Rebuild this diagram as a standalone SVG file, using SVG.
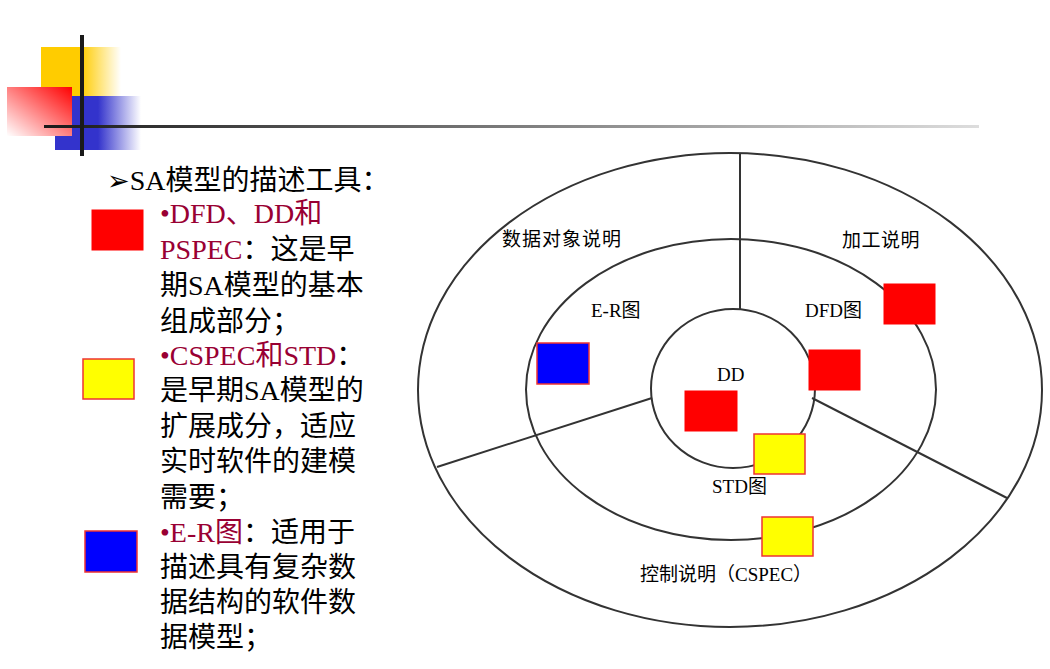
<svg xmlns="http://www.w3.org/2000/svg" width="1050" height="669" viewBox="0 0 1050 669">
<defs>
<linearGradient id="gY" x1="0" y1="0" x2="1" y2="0">
<stop offset="0" stop-color="#FFCC00"/><stop offset="0.5" stop-color="#FFCC00"/><stop offset="1" stop-color="#FFCC00" stop-opacity="0"/>
</linearGradient>
<linearGradient id="gB" x1="0" y1="0" x2="1" y2="0">
<stop offset="0" stop-color="#3333CC"/><stop offset="0.5" stop-color="#3333CC"/><stop offset="1" stop-color="#3333CC" stop-opacity="0"/>
</linearGradient>
<linearGradient id="gR" x1="1" y1="0" x2="0" y2="1">
<stop offset="0" stop-color="#FF0000"/><stop offset="1" stop-color="#FF0000" stop-opacity="0"/>
</linearGradient>
<linearGradient id="gL" x1="0" y1="0" x2="1" y2="0">
<stop offset="0" stop-color="#1a1a1a"/><stop offset="0.3" stop-color="#555555"/><stop offset="1" stop-color="#dddddd"/>
</linearGradient>
<style>
.ring{fill:none;stroke:#333333;stroke-width:2}
.sep{stroke:#333333;stroke-width:2}
.lbl{font-family:'Liberation Serif','Noto Sans CJK SC',serif;font-size:19px;fill:#000}
.body{font-family:'Liberation Serif','Noto Sans CJK SC',serif;font-size:28px;fill:#000}
.hl{fill:#990033}
.red{fill:#FF0000;stroke:#FF0000;stroke-width:1}
.yel{fill:#FFFF00;stroke:#EE3333;stroke-width:1.5}
.blu{fill:#0000FF;stroke:#EE3333;stroke-width:1.5}
</style>
</defs>
<rect width="1050" height="669" fill="#ffffff"/>
<g id="header">
<rect x="41" y="47" width="80" height="49" fill="url(#gY)"/>
<rect x="55" y="96" width="86" height="54" fill="url(#gB)"/>
<rect x="7" y="87" width="65" height="49" fill="#ffffff"/>
<rect x="7" y="87" width="65" height="49" fill="url(#gR)"/>
<rect x="44" y="125" width="935" height="3" fill="url(#gL)"/>
<rect x="80" y="35" width="4" height="121" fill="#1a1a1a"/>
</g>
<g id="text-panel">
<text class="body" x="107" y="190"><tspan font-family="'DejaVu Sans',sans-serif" font-size="27">➢</tspan>SA模型的描述工具：</text>
<text class="body" x="160" y="223"><tspan class="hl">•DFD、DD和</tspan></text>
<text class="body" x="160" y="259"><tspan class="hl">PSPEC</tspan>：这是早</text>
<text class="body" x="160" y="295">期SA模型的基本</text>
<text class="body" x="160" y="331">组成部分；</text>
<text class="body" x="160" y="365"><tspan class="hl">•CSPEC和STD</tspan>：</text>
<text class="body" x="160" y="400">是早期SA模型的</text>
<text class="body" x="160" y="436">扩展成分，适应</text>
<text class="body" x="160" y="471">实时软件的建模</text>
<text class="body" x="160" y="507">需要；</text>
<text class="body" x="160" y="542"><tspan class="hl">•E-R图</tspan>：适用于</text>
<text class="body" x="160" y="577">描述具有复杂数</text>
<text class="body" x="160" y="612">据结构的软件数</text>
<text class="body" x="160" y="647">据模型；</text>
</g>
<g id="legend">
<rect id="legend-red" class="red" x="92" y="210" width="51" height="40"/>
<rect id="legend-yellow" class="yel" x="83" y="359" width="51" height="40"/>
<rect id="legend-blue" class="blu" x="85" y="531" width="52" height="41"/>
</g>
<g id="connectors">
<ellipse class="ring" cx="730" cy="390" rx="312" ry="237"/>
<ellipse class="ring" cx="731" cy="389.5" rx="205" ry="150.5"/>
<ellipse class="ring" cx="733" cy="388.5" rx="82" ry="79.5"/>
<line class="sep" x1="740" y1="153" x2="740" y2="309"/>
<line class="sep" x1="652" y1="398" x2="437" y2="467"/>
<line class="sep" x1="812" y1="398" x2="1007" y2="498"/>
</g>
<g id="node-dd">
<text class="lbl" x="717" y="381">DD</text>
<rect class="red" x="685" y="391" width="52" height="40"/>
</g>
<g id="node-er">
<text class="lbl" x="591" y="317">E-R图</text>
<rect class="blu" x="537" y="343" width="52" height="41"/>
</g>
<g id="node-dfd">
<text class="lbl" x="805" y="317">DFD图</text>
<rect class="red" x="809" y="350" width="51" height="40"/>
</g>
<g id="node-std">
<rect class="yel" x="754" y="434" width="51" height="40"/>
<text class="lbl" x="712" y="493">STD图</text>
</g>
<g id="node-data-obj">
<text class="lbl" x="502" y="246" letter-spacing="1">数据对象说明</text>
</g>
<g id="node-pspec">
<text class="lbl" x="842" y="247" letter-spacing="0.5">加工说明</text>
<rect class="red" x="884" y="284" width="51" height="40"/>
</g>
<g id="node-cspec">
<rect class="yel" x="762" y="517" width="51" height="39"/>
<text class="lbl" x="640" y="581">控制说明（CSPEC）</text>
</g>
</svg>
